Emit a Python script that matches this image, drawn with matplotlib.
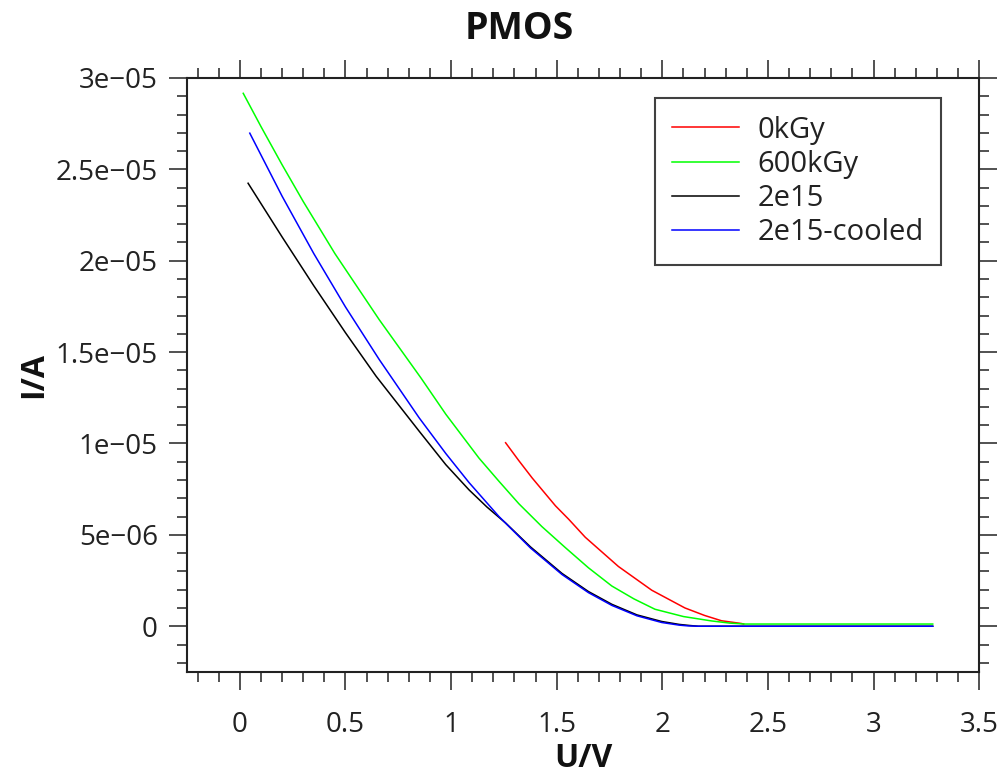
import matplotlib
matplotlib.use("Agg")
import matplotlib.pyplot as plt
from matplotlib.ticker import FixedLocator, MultipleLocator, FixedFormatter

plt.rcParams['font.family'] = ['Open Sans', 'DejaVu Sans']

# ---- data ----
x_0kGy = [1.258, 1.32, 1.384, 1.494, 1.557, 1.635, 1.792, 1.950, 2.107, 2.20, 2.28, 2.374, 2.385]
y_0kGy = [1.004e-5, 9.07e-6, 8.11e-6, 6.59e-6, 5.85e-6, 4.87e-6, 3.27e-6, 1.97e-6, 1.0e-6,
          5.9e-7, 3.0e-7, 1.5e-7, 1.2e-7]

x_600kGy = [0.016, 0.1, 0.2, 0.3, 0.45, 0.66, 0.857, 0.975, 1.132, 1.226, 1.321, 1.430,
            1.541, 1.65, 1.761, 1.865, 1.965, 2.1, 2.233, 2.32, 2.39, 2.6, 3.0, 3.28]
y_600kGy = [2.916e-5, 2.734e-5, 2.525e-5, 2.324e-5, 2.039e-5, 1.677e-5, 1.359e-5, 1.16e-5,
            9.2e-6, 7.94e-6, 6.7e-6, 5.45e-6, 4.3e-6, 3.2e-6, 2.2e-6, 1.5e-6, 9.3e-7,
            5.3e-7, 2.9e-7, 1.7e-7, 1.2e-7, 1.2e-7, 1.2e-7, 1.2e-7]

x_2e15 = [0.039, 0.2, 0.35, 0.5, 0.645, 0.849, 0.975, 1.085, 1.17, 1.258, 1.376, 1.525,
          1.65, 1.761, 1.88, 1.997, 2.08, 2.13, 2.17, 2.6, 3.28]
y_2e15 = [2.424e-5, 2.130e-5, 1.863e-5, 1.606e-5, 1.368e-5, 1.067e-5, 8.84e-6, 7.46e-6,
          6.52e-6, 5.65e-6, 4.34e-6, 2.89e-6, 1.90e-6, 1.20e-6, 6.2e-7, 2.6e-7, 1.0e-7,
          4e-8, 0.0, 0.0, 0.0]

x_2e15c = [0.047, 0.2, 0.35, 0.5, 0.66, 0.849, 0.975, 1.085, 1.226, 1.376, 1.525, 1.65,
           1.761, 1.88, 1.997, 2.08, 2.12, 2.17, 2.6, 3.28]
y_2e15c = [2.698e-5, 2.353e-5, 2.039e-5, 1.747e-5, 1.459e-5, 1.140e-5, 9.45e-6, 7.86e-6,
           6.01e-6, 4.28e-6, 2.83e-6, 1.84e-6, 1.14e-6, 5.7e-7, 2.05e-7, 6e-8, 2e-8,
           0.0, 0.0, 0.0]

series_labels = ['0kGy', '600kGy', '2e15', '2e15-cooled']
series_colors = ['#ff0000', '#00ff00', '#000000', '#0000ff']

x_ticks = [0, 0.5, 1, 1.5, 2, 2.5, 3, 3.5]
x_ticklabels = ['0', '0.5', '1', '1.5', '2', '2.5', '3', '3.5']
y_ticks = [0, 5e-6, 1e-5, 1.5e-5, 2e-5, 2.5e-5, 3e-5]
y_ticklabels = ['0', '5e\u221206', '1e\u221205', '1.5e\u221205', '2e\u221205', '2.5e\u221205', '3e\u221205']

# ---- figure ----
fig = plt.figure(figsize=(10.04, 7.75), dpi=100)
ax = fig.add_axes([0.1863, 0.133, 0.789, 0.7664])

data = [(x_0kGy, y_0kGy), (x_600kGy, y_600kGy), (x_2e15, y_2e15), (x_2e15c, y_2e15c)]
for (xs, ys), lab, col in zip(data, series_labels, series_colors):
    ax.plot(xs, ys, color=col, lw=1.1, label=lab)

ax.set_xlim(-0.25, 3.5)
ax.set_ylim(-2.5e-6, 3e-5)

ax.xaxis.set_major_locator(FixedLocator(x_ticks))
ax.xaxis.set_major_formatter(FixedFormatter(x_ticklabels))
ax.xaxis.set_minor_locator(MultipleLocator(0.1))
ax.yaxis.set_major_locator(FixedLocator(y_ticks))
ax.yaxis.set_major_formatter(FixedFormatter(y_ticklabels))
ax.yaxis.set_minor_locator(MultipleLocator(1e-6))

ax.tick_params(which='both', direction='out', top=True, right=True, width=1.1,
               color='#222222')
ax.tick_params(which='major', length=13, labelsize=20, labelcolor='#222222')
ax.tick_params(which='minor', length=7)
ax.tick_params(axis='x', which='major', pad=15)
ax.tick_params(axis='y', which='major', pad=8)
for s in ax.spines.values():
    s.set_linewidth(1.5)
    s.set_color('#222222')

fig.text(0.517, 0.963, 'PMOS', fontsize=27, fontweight='bold', color='#111111',
         ha='center', va='center')
ax.set_xlabel('U/V', fontsize=23, fontweight='bold', labelpad=2, color='#111111')
ax.set_ylabel('I/A', fontsize=23, fontweight='bold', labelpad=4, color='#111111')

leg = ax.legend(loc='upper right', bbox_to_anchor=(0.952, 0.966), fontsize=21,
                frameon=True, fancybox=False, edgecolor='#111111', handlelength=2.3,
                handletextpad=0.62, borderpad=0.6, labelspacing=0.18, borderaxespad=0)
leg.get_frame().set_linewidth(1.5)
for t in leg.get_texts():
    t.set_color('#222222')

fig.savefig('out.png', dpi=100)
